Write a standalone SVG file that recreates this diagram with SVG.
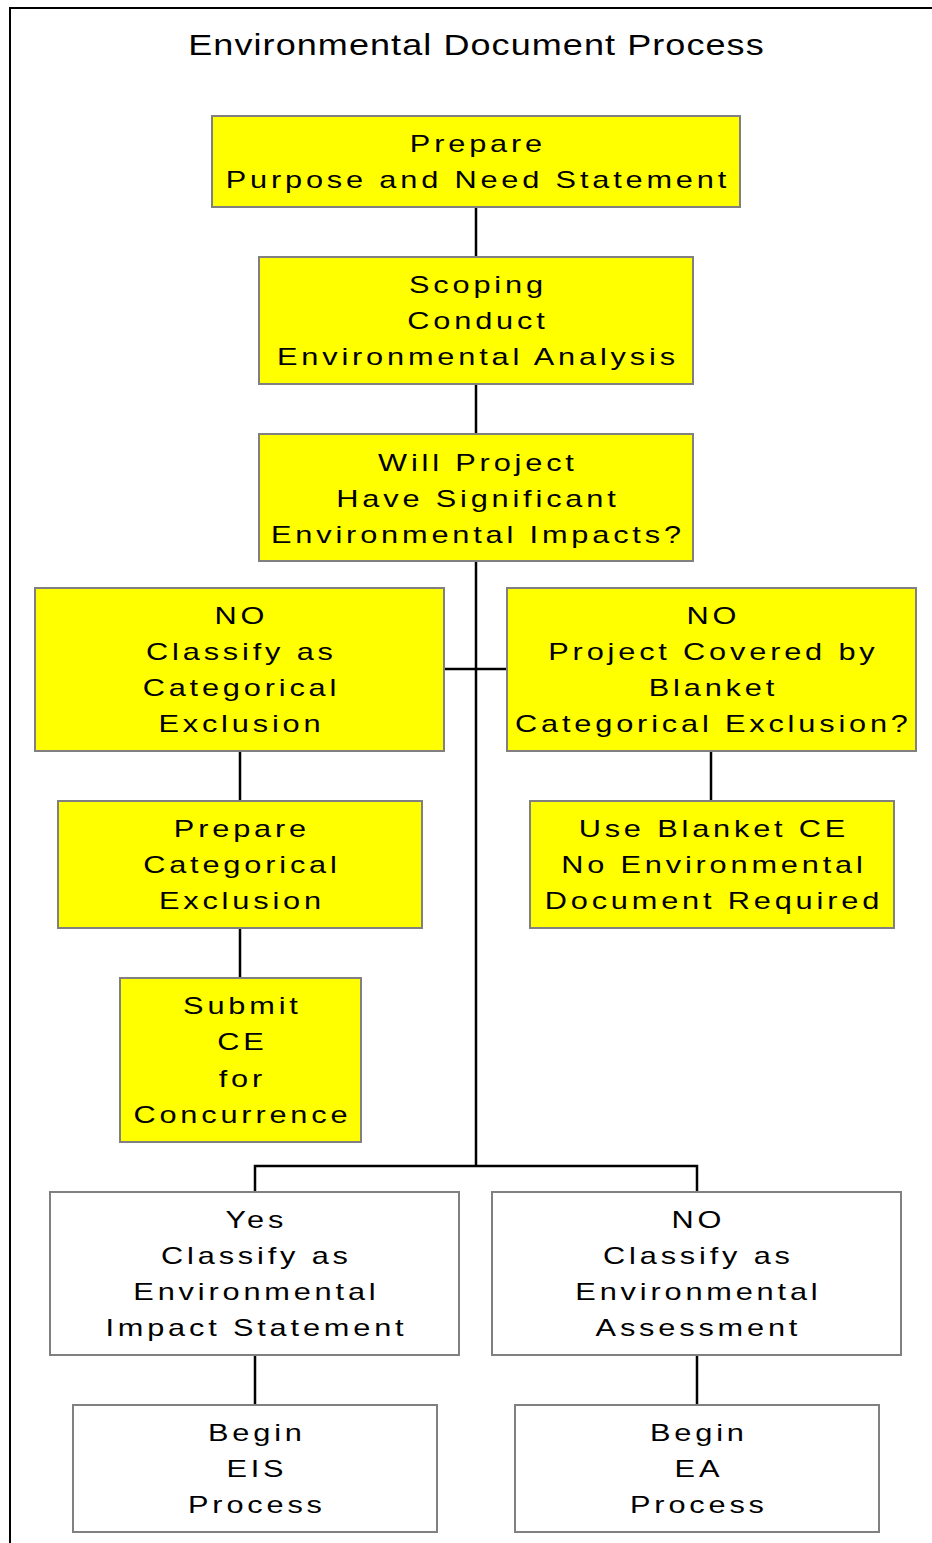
<svg xmlns="http://www.w3.org/2000/svg" width="932" height="1543" viewBox="0 0 932 1543">
<style>
.y{fill:#ffff00;stroke:#808080;stroke-width:2}
.w{fill:#ffffff;stroke:#808080;stroke-width:2}
.t{font-family:"Liberation Sans",Arial,sans-serif;font-size:24px;letter-spacing:3px;fill:#000;text-anchor:middle}
.ti{font-family:"Liberation Sans",Arial,sans-serif;font-size:30px;letter-spacing:0.9px;fill:#000;text-anchor:middle}
.c{stroke:#000;stroke-width:2.5;fill:none}
</style>
<rect width="932" height="1543" fill="#ffffff"/>
<path d="M10 1543 V8 H932" fill="none" stroke="#000" stroke-width="2"/>
<text class="ti" transform="translate(476.5 55) scale(1.2 1)">Environmental Document Process</text>
<g id="connectors">
<path class="c" d="M476 207 V257 M476 384 V434 M476 561 V1166 M444 669 H507 M240 751 V801 M240 928 V978 M711 751 V801 M255 1192 V1166 H697 V1192 M255 1355 V1405 M697 1355 V1405"/>
</g>
<g id="n1"><rect class="y" x="212" y="116" width="528" height="91"/>
<text class="t" transform="translate(477.9 152) scale(1.28 1)">Prepare</text><text class="t" transform="translate(477.9 188) scale(1.28 1)">Purpose and Need Statement</text></g>
<g id="n2"><rect class="y" x="259" y="257" width="434" height="127"/>
<text class="t" transform="translate(477.9 293) scale(1.28 1)">Scoping</text><text class="t" transform="translate(477.9 329) scale(1.28 1)">Conduct</text><text class="t" transform="translate(477.9 365) scale(1.28 1)">Environmental Analysis</text></g>
<g id="n3"><rect class="y" x="259" y="434" width="434" height="127"/>
<text class="t" transform="translate(477.9 471) scale(1.28 1)">Will Project</text><text class="t" transform="translate(477.9 507) scale(1.28 1)">Have Significant</text><text class="t" transform="translate(477.9 543) scale(1.28 1)">Environmental Impacts?</text></g>
<g id="n4"><rect class="y" x="35" y="588" width="409" height="163"/>
<text class="t" transform="translate(241.4 624) scale(1.28 1)">NO</text><text class="t" transform="translate(241.4 660) scale(1.28 1)">Classify as</text><text class="t" transform="translate(241.4 696) scale(1.28 1)">Categorical</text><text class="t" transform="translate(241.4 732) scale(1.28 1)">Exclusion</text></g>
<g id="n5"><rect class="y" x="507" y="588" width="409" height="163"/>
<text class="t" transform="translate(713.4 624) scale(1.28 1)">NO</text><text class="t" transform="translate(713.4 660) scale(1.28 1)">Project Covered by</text><text class="t" transform="translate(713.4 696) scale(1.28 1)">Blanket</text><text class="t" transform="translate(713.4 732) scale(1.28 1)">Categorical Exclusion?</text></g>
<g id="n6"><rect class="y" x="58" y="801" width="364" height="127"/>
<text class="t" transform="translate(241.9 837) scale(1.28 1)">Prepare</text><text class="t" transform="translate(241.9 873) scale(1.28 1)">Categorical</text><text class="t" transform="translate(241.9 909) scale(1.28 1)">Exclusion</text></g>
<g id="n7"><rect class="y" x="530" y="801" width="364" height="127"/>
<text class="t" transform="translate(713.9 837) scale(1.28 1)">Use Blanket CE</text><text class="t" transform="translate(713.9 873) scale(1.28 1)">No Environmental</text><text class="t" transform="translate(713.9 909) scale(1.28 1)">Document Required</text></g>
<g id="n8"><rect class="y" x="120" y="978" width="241" height="164"/>
<text class="t" transform="translate(242.4 1014) scale(1.28 1)">Submit</text><text class="t" transform="translate(242.4 1050) scale(1.28 1)">CE</text><text class="t" transform="translate(242.4 1087) scale(1.28 1)">for</text><text class="t" transform="translate(242.4 1123) scale(1.28 1)">Concurrence</text></g>
<g id="n9"><rect class="w" x="50" y="1192" width="409" height="163"/>
<text class="t" transform="translate(256.4 1228) scale(1.28 1)">Yes</text><text class="t" transform="translate(256.4 1264) scale(1.28 1)">Classify as</text><text class="t" transform="translate(256.4 1300) scale(1.28 1)">Environmental</text><text class="t" transform="translate(256.4 1336) scale(1.28 1)">Impact Statement</text></g>
<g id="n10"><rect class="w" x="492" y="1192" width="409" height="163"/>
<text class="t" transform="translate(698.4 1228) scale(1.28 1)">NO</text><text class="t" transform="translate(698.4 1264) scale(1.28 1)">Classify as</text><text class="t" transform="translate(698.4 1300) scale(1.28 1)">Environmental</text><text class="t" transform="translate(698.4 1336) scale(1.28 1)">Assessment</text></g>
<g id="n11"><rect class="w" x="73" y="1405" width="364" height="127"/>
<text class="t" transform="translate(256.9 1441) scale(1.28 1)">Begin</text><text class="t" transform="translate(256.9 1477) scale(1.28 1)">EIS</text><text class="t" transform="translate(256.9 1513) scale(1.28 1)">Process</text></g>
<g id="n12"><rect class="w" x="515" y="1405" width="364" height="127"/>
<text class="t" transform="translate(698.9 1441) scale(1.28 1)">Begin</text><text class="t" transform="translate(698.9 1477) scale(1.28 1)">EA</text><text class="t" transform="translate(698.9 1513) scale(1.28 1)">Process</text></g>
</svg>
